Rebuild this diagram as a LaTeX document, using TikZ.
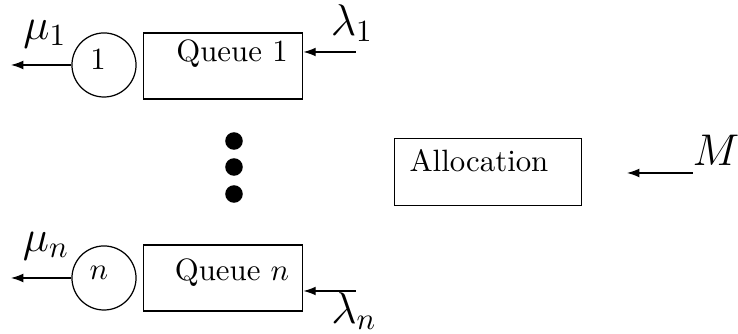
\documentclass[tikz,border=0pt]{standalone}
\usetikzlibrary{arrows.meta}

\tikzset{
    server/.style={draw, circle, minimum size=0.73cm, inner sep=0pt},
    queuebox/.style={draw, rectangle, minimum width=1.82cm, minimum height=0.75cm},
    rate/.style={font=\Large, inner sep=0pt},
    arr/.style={-{Latex[length=1.4mm, width=1mm]}}
}

\begin{document}
\begin{tikzpicture}[x=0.0114cm, y=-0.0114cm]
        \useasboundingbox (0,0) rectangle (738,334);

        % first queue
        \node[server] (s1) at (104,65) {};
        \node (s1txt) at (98,59) {1};
        \node[queuebox] (q1) at (223,66) {};
        \node (q1txt) at (232,54) {Queue 1};
        \coordinate (out1) at (11,65);
        \coordinate (in1) at (356,52);
        \draw[arr] (s1.west) -- (out1);
        \draw[arr] (in1) -- (in1 -| q1.east);
        \node[rate] (mu1) at (45,34) {$\mu_1$};
        \node[rate] (lam1) at (352,23) {$\lambda_1$};

        % dots
        \foreach \y in {141, 167, 194} {
            \fill (234,\y) circle (0.1cm);
        }

        % last queue
        \node[server] (sn) at (104,278) {};
        \node (sntxt) at (99,273) {$n$};
        \node[queuebox] (qn) at (223,278) {};
        \node (qntxt) at (232,273) {Queue $n$};
        \coordinate (outn) at (11,278);
        \coordinate (inn) at (356,291);
        \draw[arr] (sn.west) -- (outn);
        \draw[arr] (inn) -- (inn -| qn.east);
        \node[rate] (mun) at (46,246) {$\mu_n$};
        \node[rate] (lamn) at (354,311) {$\lambda_n$};

        % allocation
        \node[draw, rectangle, minimum width=2.13cm, minimum height=0.76cm] (alloc) at (488,172) {};
        \node (alloctxt) at (479,161) {Allocation};
        \coordinate (mstart) at (693,173);
        \coordinate (mend) at (627,173);
        \draw[arr] (mstart) -- (mend);
        \node[rate] (mlab) at (716,150) {$M$};
    \end{tikzpicture}
\end{document}
